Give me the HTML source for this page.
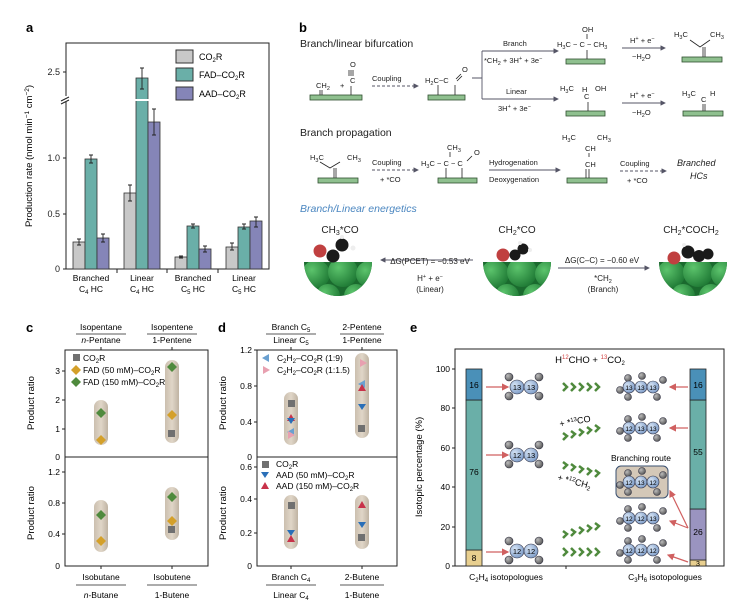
<!DOCTYPE html>
<html><head><meta charset="utf-8"><style>
html,body{margin:0;padding:0;background:#fff}
svg{display:block;font-family:"Liberation Sans",Arial,sans-serif}
</style></head><body>
<svg width="737" height="609" viewBox="0 0 737 609" xmlns="http://www.w3.org/2000/svg">
<defs>
<radialGradient id="cg" cx="0.35" cy="0.35" r="0.7"><stop offset="0" stop-color="#d6e4f5"/><stop offset="1" stop-color="#7d9cc8"/></radialGradient>
<radialGradient id="hg" cx="0.35" cy="0.35" r="0.7"><stop offset="0" stop-color="#bbb"/><stop offset="1" stop-color="#555"/></radialGradient>
<radialGradient id="gg" cx="0.35" cy="0.35" r="0.7"><stop offset="0" stop-color="#5cc46c"/><stop offset="1" stop-color="#1f7a35"/></radialGradient>
<linearGradient id="pill" x1="0" x2="1"><stop offset="0" stop-color="#cbbfae"/><stop offset="0.5" stop-color="#e0d6c8"/><stop offset="1" stop-color="#bfb3a2"/></linearGradient>
<marker id="ah" markerWidth="6" markerHeight="6" refX="5" refY="3" orient="auto"><path d="M0,0 L6,3 L0,6z" fill="#556"/></marker>
<marker id="ar" markerWidth="6" markerHeight="6" refX="5" refY="3" orient="auto"><path d="M0,0 L6,3 L0,6z" fill="#d06060"/></marker>
<clipPath id="c1"><path d="M304,262 a34,34 0 0 0 68,0z"/></clipPath>
<clipPath id="c2"><path d="M483,262 a34,34 0 0 0 68,0z"/></clipPath>
<clipPath id="c3"><path d="M659,262 a34,34 0 0 0 68,0z"/></clipPath>
</defs>

<!-- ===== Panel a ===== -->
<text x="26" y="32" font-size="13" font-weight="bold">a</text>
<rect x="66" y="43" width="203" height="226" fill="none" stroke="#222" stroke-width="1"/>
<g font-size="9" text-anchor="end" fill="#222">
<text x="60" y="272">0</text><text x="60" y="217">0.5</text><text x="60" y="161">1.0</text><text x="60" y="75">2.5</text>
</g>
<g stroke="#222"><line x1="63" y1="269" x2="66" y2="269"/><line x1="63" y1="214" x2="66" y2="214"/><line x1="63" y1="158" x2="66" y2="158"/><line x1="63" y1="72" x2="66" y2="72"/>
<line x1="117" y1="269" x2="117" y2="273"/><line x1="167" y1="269" x2="167" y2="273"/><line x1="218" y1="269" x2="218" y2="273"/></g>
<rect x="60" y="96" width="10" height="6" fill="#fff"/>
<g stroke="#222"><line x1="61" y1="101" x2="69" y2="97"/><line x1="61" y1="104" x2="69" y2="100"/></g>
<text transform="translate(32,156) rotate(-90)" font-size="9.5" text-anchor="middle">Production rate (nmol min<tspan dy="-3" font-size="6.5">−1</tspan><tspan dy="3"> cm</tspan><tspan dy="-3" font-size="6.5">−2</tspan><tspan dy="3">)</tspan></text>
<g stroke="#333" stroke-width="0.8">
<rect x="73" y="242" width="12" height="27" fill="#c8c8c8"/><rect x="85" y="159" width="12" height="110" fill="#6aafa8"/><rect x="97" y="238" width="12" height="31" fill="#8585b8"/>
<rect x="124" y="193" width="12" height="76" fill="#c8c8c8"/><rect x="136" y="78" width="12" height="191" fill="#6aafa8"/><rect x="148" y="122" width="12" height="147" fill="#8585b8"/>
<rect x="175" y="257" width="12" height="12" fill="#c8c8c8"/><rect x="187" y="226" width="12" height="43" fill="#6aafa8"/><rect x="199" y="249" width="12" height="20" fill="#8585b8"/>
<rect x="226" y="247" width="12" height="22" fill="#c8c8c8"/><rect x="238" y="227" width="12" height="42" fill="#6aafa8"/><rect x="250" y="221" width="12" height="48" fill="#8585b8"/>
</g>
<rect x="135" y="99" width="14" height="2" fill="#fff"/>
<g stroke="#222" stroke-width="0.9" fill="none">
<path d="M79,239v6M77,239h4M77,245h4"/><path d="M91,155v8M89,155h4M89,163h4"/><path d="M103,234v8M101,234h4M101,242h4"/>
<path d="M130,185v16M128,185h4M128,201h4"/><path d="M142,68v21M140,68h4M140,89h4"/><path d="M154,109v26M152,109h4M152,135h4"/>
<path d="M181,256v2M179,256h4M179,258h4"/><path d="M193,224v4M191,224h4M191,228h4"/><path d="M205,246v6M203,246h4M203,252h4"/>
<path d="M232,243v7M230,243h4M230,250h4"/><path d="M244,224v5M242,224h4M242,229h4"/><path d="M256,217v10M254,217h4M254,227h4"/>
</g>
<g font-size="9"><rect x="176" y="50" width="17" height="13" fill="#c8c8c8" stroke="#333"/><text x="199" y="60">CO<tspan font-size="6" dy="2">2</tspan><tspan dy="-2">R</tspan></text>
<rect x="176" y="68" width="17" height="13" fill="#6aafa8" stroke="#333"/><text x="199" y="78">FAD–CO<tspan font-size="6" dy="2">2</tspan><tspan dy="-2">R</tspan></text>
<rect x="176" y="87" width="17" height="13" fill="#8585b8" stroke="#333"/><text x="199" y="97">AAD–CO<tspan font-size="6" dy="2">2</tspan><tspan dy="-2">R</tspan></text></g>
<g font-size="8.5" text-anchor="middle">
<text x="91" y="281">Branched</text><text x="91" y="292">C<tspan font-size="6" dy="2">4</tspan><tspan dy="-2"> HC</tspan></text>
<text x="142" y="281">Linear</text><text x="142" y="292">C<tspan font-size="6" dy="2">4</tspan><tspan dy="-2"> HC</tspan></text>
<text x="193" y="281">Branched</text><text x="193" y="292">C<tspan font-size="6" dy="2">5</tspan><tspan dy="-2"> HC</tspan></text>
<text x="244" y="281">Linear</text><text x="244" y="292">C<tspan font-size="6" dy="2">5</tspan><tspan dy="-2"> HC</tspan></text>
</g>

<!-- ===== Panel b ===== -->
<text x="299" y="32" font-size="13" font-weight="bold">b</text>
<g font-size="10.5" fill="#222"><text x="300" y="47">Branch/linear bifurcation</text><text x="300" y="136">Branch propagation</text>
<text x="300" y="212" fill="#4a86c0" font-style="italic">Branch/Linear energetics</text></g>
<g fill="#8fc08f" stroke="#2f4f2f" stroke-width="0.8">
<rect x="310" y="95" width="52" height="5"/><rect x="428" y="95" width="37" height="5"/><rect x="566" y="59" width="39" height="5"/><rect x="682" y="57" width="40" height="5"/>
<rect x="566" y="111" width="39" height="5"/><rect x="683" y="111" width="40" height="5"/><rect x="318" y="178" width="40" height="5"/><rect x="438" y="178" width="39" height="5"/><rect x="567" y="178" width="40" height="5"/>
</g>
<g font-size="7.5" fill="#222">
<text x="316" y="88">CH<tspan font-size="5.5" dy="2">2</tspan></text><text x="340" y="88">+</text><text x="350" y="67">O</text><text x="350" y="83">C</text>
<text x="372" y="81">Coupling</text>
<text x="425" y="83">H<tspan font-size="5.5" dy="2">2</tspan><tspan dy="-2">C−C</tspan></text><text x="462" y="72">O</text>
<text x="503" y="46">Branch</text><text x="484" y="63">*CH<tspan font-size="5.5" dy="2">2</tspan><tspan dy="-2"> + 3H</tspan><tspan font-size="5.5" dy="-3">+</tspan><tspan dy="3"> + 3e</tspan><tspan font-size="5.5" dy="-3">−</tspan></text>
<text x="506" y="94">Linear</text><text x="498" y="111">3H<tspan font-size="5.5" dy="-3">+</tspan><tspan dy="3"> + 3e</tspan><tspan font-size="5.5" dy="-3">−</tspan></text>
<text x="582" y="32">OH</text><text x="557" y="47">H<tspan font-size="5.5" dy="2">3</tspan><tspan dy="-2">C − C − CH</tspan><tspan font-size="5.5" dy="2">3</tspan></text>
<text x="560" y="91">H<tspan font-size="5.5" dy="2">3</tspan><tspan dy="-2">C</tspan></text><text x="582" y="92">H</text><text x="595" y="91">OH</text><text x="584" y="99">C</text>
<text x="630" y="43">H<tspan font-size="5.5" dy="-3">+</tspan><tspan dy="3"> + e</tspan><tspan font-size="5.5" dy="-3">−</tspan></text><text x="632" y="59">−H<tspan font-size="5.5" dy="2">2</tspan><tspan dy="-2">O</tspan></text>
<text x="630" y="98">H<tspan font-size="5.5" dy="-3">+</tspan><tspan dy="3"> + e</tspan><tspan font-size="5.5" dy="-3">−</tspan></text><text x="632" y="115">−H<tspan font-size="5.5" dy="2">2</tspan><tspan dy="-2">O</tspan></text>
<text x="674" y="37">H<tspan font-size="5.5" dy="2">3</tspan><tspan dy="-2">C</tspan></text><text x="710" y="37">CH<tspan font-size="5.5" dy="2">3</tspan></text>
<text x="682" y="96">H<tspan font-size="5.5" dy="2">3</tspan><tspan dy="-2">C</tspan></text><text x="710" y="96">H</text><text x="701" y="102">C</text>
<text x="310" y="160">H<tspan font-size="5.5" dy="2">3</tspan><tspan dy="-2">C</tspan></text><text x="347" y="160">CH<tspan font-size="5.5" dy="2">3</tspan></text>
<text x="372" y="165">Coupling</text><text x="380" y="182">+ *CO</text>
<text x="447" y="150">CH<tspan font-size="5.5" dy="2">3</tspan></text><text x="421" y="166">H<tspan font-size="5.5" dy="2">3</tspan><tspan dy="-2">C − C − C</tspan></text><text x="474" y="155">O</text>
<text x="489" y="165">Hydrogenation</text><text x="489" y="182">Deoxygenation</text>
<text x="562" y="140">H<tspan font-size="5.5" dy="2">3</tspan><tspan dy="-2">C</tspan></text><text x="597" y="140">CH<tspan font-size="5.5" dy="2">3</tspan></text><text x="585" y="151">CH</text><text x="585" y="167">CH</text>
<text x="620" y="166">Coupling</text><text x="627" y="183">+ *CO</text>
<text x="677" y="166" font-size="9" font-style="italic">Branched</text><text x="690" y="179" font-size="9" font-style="italic">HCs</text>
</g>
<g stroke="#222" stroke-width="0.8" fill="none">
<path d="M353,70v6M351,70v6M349,70v6"/><path d="M320,90v5M322,90v5"/><path d="M351,86v9"/>
<path d="M438,85v10M455,85v10M456,79l5,-5M457,81l5,-5"/>
<path d="M587,34v5M587,50v9"/><path d="M588,102v9"/><path d="M703,104v7M705,104v7"/><path d="M690,40l10,7l10,-7M703,47v10M705,47v10"/>
<path d="M320,162l10,6l10,-6M334,168v10M336,168v10"/><path d="M450,152v5M446,168v10M462,168v10M467,161l5,-5"/><path d="M589,153v4M586,169v9M589,169v9"/>
</g>
<g stroke="#556" stroke-width="0.9" fill="none">
<line x1="372" y1="86" x2="418" y2="86" stroke-dasharray="3,2" marker-end="url(#ah)"/>
<path d="M472,78h10M482,51v48M482,51h76M482,99h76" /><path d="M555,51l3,0" marker-end="url(#ah)"/><path d="M555,99l3,0" marker-end="url(#ah)"/>
<line x1="622" y1="48" x2="665" y2="48" marker-end="url(#ah)"/><line x1="622" y1="103" x2="665" y2="103" marker-end="url(#ah)"/>
<line x1="372" y1="170" x2="418" y2="170" stroke-dasharray="3,2" marker-end="url(#ah)"/>
<line x1="489" y1="170" x2="560" y2="170" marker-end="url(#ah)"/>
<line x1="620" y1="171" x2="666" y2="171" stroke-dasharray="3,2" marker-end="url(#ah)"/>
<line x1="473" y1="260" x2="381" y2="260" marker-end="url(#ah)"/><line x1="558" y1="268" x2="649" y2="268" marker-end="url(#ah)"/>
</g>
<g font-size="8" fill="#222" text-anchor="middle">
<text x="430" y="264">ΔG(PCET) = −0.53 eV</text><text x="430" y="281">H<tspan font-size="5.5" dy="-3">+</tspan><tspan dy="3"> + e</tspan><tspan font-size="5.5" dy="-3">−</tspan></text><text x="430" y="292">(Linear)</text>
<text x="602" y="263">ΔG(C–C) = −0.60 eV</text><text x="603" y="281">*CH<tspan font-size="5.5" dy="2">2</tspan></text><text x="603" y="292">(Branch)</text>
<g font-size="10"><text x="340" y="233">CH<tspan font-size="7" dy="2">3</tspan><tspan dy="-2">*CO</tspan></text><text x="517" y="233">CH<tspan font-size="7" dy="2">2</tspan><tspan dy="-2">*CO</tspan></text><text x="691" y="233">CH<tspan font-size="7" dy="2">2</tspan><tspan dy="-2">*COCH</tspan><tspan font-size="7" dy="2">2</tspan></text></g>
</g>
<g>
<g clip-path="url(#c1)"><rect x="300" y="260" width="80" height="40" fill="#1a6a2e"/>
<circle cx="316" cy="274" r="14" fill="url(#gg)"/><circle cx="343" cy="272" r="15" fill="url(#gg)"/><circle cx="369" cy="274" r="13" fill="url(#gg)"/><circle cx="328" cy="296" r="12" fill="url(#gg)"/><circle cx="356" cy="296" r="12" fill="url(#gg)"/></g>
<circle cx="320" cy="251" r="6.5" fill="#c04040"/><circle cx="333" cy="256" r="6.5" fill="#1a1a1a"/><circle cx="342" cy="245" r="6.5" fill="#1a1a1a"/><circle cx="353" cy="248" r="2.5" fill="#eee"/><circle cx="342" cy="237" r="2" fill="#eee"/>
<g clip-path="url(#c2)"><rect x="480" y="260" width="80" height="40" fill="#1a6a2e"/>
<circle cx="495" cy="274" r="14" fill="url(#gg)"/><circle cx="522" cy="272" r="15" fill="url(#gg)"/><circle cx="548" cy="274" r="13" fill="url(#gg)"/><circle cx="507" cy="296" r="12" fill="url(#gg)"/><circle cx="535" cy="296" r="12" fill="url(#gg)"/></g>
<circle cx="503" cy="255" r="6.5" fill="#c04040"/><circle cx="515" cy="255" r="5.5" fill="#1a1a1a"/><circle cx="523" cy="249" r="5.5" fill="#1a1a1a"/><circle cx="520" cy="243" r="2" fill="#eee"/><circle cx="530" cy="250" r="2" fill="#eee"/>
<g clip-path="url(#c3)"><rect x="655" y="260" width="80" height="40" fill="#1a6a2e"/>
<circle cx="671" cy="274" r="14" fill="url(#gg)"/><circle cx="698" cy="272" r="15" fill="url(#gg)"/><circle cx="724" cy="274" r="13" fill="url(#gg)"/><circle cx="683" cy="296" r="12" fill="url(#gg)"/><circle cx="711" cy="296" r="12" fill="url(#gg)"/></g>
<circle cx="674" cy="258" r="6.5" fill="#c04040"/><circle cx="688" cy="252" r="6.5" fill="#1a1a1a"/><circle cx="699" cy="256" r="6" fill="#1a1a1a"/><circle cx="708" cy="254" r="5.5" fill="#1a1a1a"/><circle cx="684" cy="245" r="2" fill="#eee"/>
</g>

<!-- ===== Panel c ===== -->
<text x="26" y="332" font-size="13" font-weight="bold">c</text>
<rect x="65" y="350" width="143" height="216" fill="none" stroke="#222"/><line x1="65" y1="457" x2="208" y2="457" stroke="#222"/>
<g font-size="8.5" text-anchor="end"><text x="60" y="460">0</text><text x="60" y="432">1</text><text x="60" y="403">2</text><text x="60" y="374">3</text>
<text x="60" y="569">0</text><text x="60" y="537">0.4</text><text x="60" y="506">0.8</text><text x="60" y="475">1.2</text></g>
<g stroke="#222"><path d="M62,429h3M62,400h3M62,371h3M62,534h3M62,503h3M62,472h3M101,566v3M172,566v3M101,350v-3M172,350v-3"/></g>
<text transform="translate(34,403) rotate(-90)" font-size="9.5" text-anchor="middle">Product ratio</text>
<text transform="translate(34,513) rotate(-90)" font-size="9.5" text-anchor="middle">Product ratio</text>
<g fill="url(#pill)"><rect x="94" y="400" width="14" height="45" rx="7"/><rect x="165" y="360" width="14" height="83" rx="7"/><rect x="94" y="500" width="14" height="52" rx="7"/><rect x="165" y="487" width="14" height="53" rx="7"/></g>
<g stroke="none">
<path d="M101,408l5,5l-5,5l-5,-5z" fill="#4f8a3d"/><path d="M101,435l5,5l-5,5l-5,-5z" fill="#d4a02a"/>
<path d="M172,362l5,5l-5,5l-5,-5z" fill="#4f8a3d"/><path d="M172,410l5,5l-5,5l-5,-5z" fill="#d4a02a"/><rect x="168" y="430" width="7" height="7" fill="#707070"/>
<path d="M101,510l5,5l-5,5l-5,-5z" fill="#4f8a3d"/><path d="M101,536l5,5l-5,5l-5,-5z" fill="#d4a02a"/>
<path d="M172,492l5,5l-5,5l-5,-5z" fill="#4f8a3d"/><rect x="168" y="526" width="7" height="7" fill="#707070"/><path d="M172,516l5,5l-5,5l-5,-5z" fill="#d4a02a"/>
<rect x="73" y="354" width="7" height="7" fill="#707070"/><path d="M76,365l5,5l-5,5l-5,-5z" fill="#d4a02a"/><path d="M76,377l5,5l-5,5l-5,-5z" fill="#4f8a3d"/>
</g>
<g font-size="8.5"><text x="83" y="361">CO<tspan font-size="6" dy="2">2</tspan><tspan dy="-2">R</tspan></text><text x="83" y="373">FAD (50 mM)–CO<tspan font-size="6" dy="2">2</tspan><tspan dy="-2">R</tspan></text><text x="83" y="385">FAD (150 mM)–CO<tspan font-size="6" dy="2">2</tspan><tspan dy="-2">R</tspan></text></g>
<g font-size="8.5" text-anchor="middle">
<text x="101" y="330">Isopentane</text><text x="101" y="343"><tspan font-style="italic">n</tspan>-Pentane</text><text x="172" y="330">Isopentene</text><text x="172" y="343">1-Pentene</text>
<text x="101" y="580">Isobutane</text><text x="101" y="598"><tspan font-style="italic">n</tspan>-Butane</text><text x="172" y="580">Isobutene</text><text x="172" y="598">1-Butene</text>
</g>
<g stroke="#222" stroke-width="0.8"><path d="M76,334h50M147,334h50M76,585h50M147,585h50"/></g>

<!-- ===== Panel d ===== -->
<text x="218" y="332" font-size="13" font-weight="bold">d</text>
<rect x="257" y="350" width="140" height="216" fill="none" stroke="#222"/><line x1="257" y1="457" x2="397" y2="457" stroke="#222"/>
<g font-size="8.5" text-anchor="end"><text x="252" y="460">0</text><text x="252" y="425">0.4</text><text x="252" y="389">0.8</text><text x="252" y="353">1.2</text>
<text x="252" y="569">0</text><text x="252" y="536">0.2</text><text x="252" y="502">0.4</text><text x="252" y="470">0.6</text></g>
<g stroke="#222"><path d="M254,422h3M254,386h3M254,350h3M254,533h3M254,499h3M254,467h3M291,566v3M362,566v3M291,350v-3M362,350v-3"/></g>
<text transform="translate(226,403) rotate(-90)" font-size="9.5" text-anchor="middle">Product ratio</text>
<text transform="translate(226,513) rotate(-90)" font-size="9.5" text-anchor="middle">Product ratio</text>
<g fill="url(#pill)"><rect x="284" y="392" width="14" height="53" rx="7"/><rect x="355" y="353" width="14" height="85" rx="7"/><rect x="284" y="495" width="14" height="54" rx="7"/><rect x="355" y="495" width="14" height="54" rx="7"/></g>
<g>
<rect x="288" y="400" width="7" height="7" fill="#707070"/><path d="M291,414l4,7h-8z" fill="#c8324a"/><path d="M287,418h8l-4,6z" fill="#2a6fb8"/><path d="M287,432l7,-4v8z" fill="#6aa0d0"/><path d="M295,435l-7,-4v8z" fill="#e8a0b0"/>
<path d="M367,363l-7,-4v8z" fill="#e8a0b0"/><path d="M358,384l7,-4v8z" fill="#6aa0d0"/><path d="M362,384l4,7h-8z" fill="#c8324a"/><path d="M358,404h8l-4,6z" fill="#2a6fb8"/><rect x="358" y="425" width="7" height="7" fill="#707070"/>
<rect x="288" y="502" width="7" height="7" fill="#707070"/><path d="M287,530h8l-4,6z" fill="#2a6fb8"/><path d="M291,535l4,7h-8z" fill="#c8324a"/>
<path d="M362,501l4,7h-8z" fill="#c8324a"/><path d="M358,522h8l-4,6z" fill="#2a6fb8"/><rect x="358" y="534" width="7" height="7" fill="#707070"/>
<path d="M262,358l7,-4v8z" fill="#6aa0d0"/><path d="M270,370l-7,-4v8z" fill="#e8a0b0"/>
<rect x="262" y="461" width="7" height="7" fill="#707070"/><path d="M261,472h8l-4,6z" fill="#2a6fb8"/><path d="M265,482l4,7h-8z" fill="#c8324a"/>
</g>
<g font-size="8.5"><text x="277" y="361">C<tspan font-size="6" dy="2">2</tspan><tspan dy="-2">H</tspan><tspan font-size="6" dy="2">2</tspan><tspan dy="-2">–CO</tspan><tspan font-size="6" dy="2">2</tspan><tspan dy="-2">R (1:9)</tspan></text>
<text x="277" y="373">C<tspan font-size="6" dy="2">2</tspan><tspan dy="-2">H</tspan><tspan font-size="6" dy="2">2</tspan><tspan dy="-2">–CO</tspan><tspan font-size="6" dy="2">2</tspan><tspan dy="-2">R (1:1.5)</tspan></text>
<text x="276" y="467">CO<tspan font-size="6" dy="2">2</tspan><tspan dy="-2">R</tspan></text><text x="276" y="478">AAD (50 mM)–CO<tspan font-size="6" dy="2">2</tspan><tspan dy="-2">R</tspan></text><text x="276" y="489">AAD (150 mM)–CO<tspan font-size="6" dy="2">2</tspan><tspan dy="-2">R</tspan></text></g>
<g font-size="8.5" text-anchor="middle">
<text x="291" y="330">Branch C<tspan font-size="6" dy="2">5</tspan></text><text x="291" y="343">Linear C<tspan font-size="6" dy="2">5</tspan></text><text x="362" y="330">2-Pentene</text><text x="362" y="343">1-Pentene</text>
<text x="291" y="580">Branch C<tspan font-size="6" dy="2">4</tspan></text><text x="291" y="598">Linear C<tspan font-size="6" dy="2">4</tspan></text><text x="362" y="580">2-Butene</text><text x="362" y="598">1-Butene</text>
</g>
<g stroke="#222" stroke-width="0.8"><path d="M266,334h50M340,334h44M266,585h50M340,585h44"/></g>

<!-- ===== Panel e ===== -->
<text x="410" y="332" font-size="13" font-weight="bold">e</text>
<rect x="455" y="349" width="269" height="217" fill="none" stroke="#222"/>
<g font-size="8.5" text-anchor="end"><text x="450" y="569">0</text><text x="450" y="530">20</text><text x="450" y="490">40</text><text x="450" y="451">60</text><text x="450" y="411">80</text><text x="450" y="372">100</text></g>
<g stroke="#222"><path d="M452,566h3M452,527h3M452,487h3M452,448h3M452,408h3M452,369h3M566,566v3"/></g>
<text transform="translate(422,467) rotate(-90)" font-size="9.5" text-anchor="middle">Isotopic percentage (%)</text>
<text x="590" y="363" font-size="9.5" text-anchor="middle">H<tspan font-size="6" dy="-4" fill="#d04040">12</tspan><tspan dy="4">CHO + </tspan><tspan font-size="6" dy="-4" fill="#d04040">13</tspan><tspan dy="4">CO</tspan><tspan font-size="6" dy="2">2</tspan></text>
<g stroke="#222" stroke-width="0.8">
<rect x="466" y="550" width="16" height="16" fill="#e8cf8f"/><rect x="466" y="400" width="16" height="150" fill="#6aafa8"/><rect x="466" y="369" width="16" height="31" fill="#4a90b8"/>
<rect x="690" y="560" width="16" height="6" fill="#e8cf8f"/><rect x="690" y="509" width="16" height="51" fill="#9a94c0"/><rect x="690" y="400" width="16" height="109" fill="#6aafa8"/><rect x="690" y="369" width="16" height="31" fill="#4a90b8"/>
</g>
<g font-size="8.5" text-anchor="middle"><text x="474" y="388">16</text><text x="474" y="475">76</text><text x="474" y="561">8</text><text x="698" y="388">16</text><text x="698" y="455">55</text><text x="698" y="535">26</text><text x="698" y="566" font-size="7">3</text></g>
<g stroke="#d06060" stroke-width="1.2" fill="none">
<line x1="486" y1="387" x2="508" y2="387" marker-end="url(#ar)"/><line x1="486" y1="455" x2="508" y2="455" marker-end="url(#ar)"/><line x1="486" y1="552" x2="508" y2="552" marker-end="url(#ar)"/>
<line x1="688" y1="387" x2="670" y2="387" marker-end="url(#ar)"/><line x1="688" y1="428" x2="670" y2="428" marker-end="url(#ar)"/>
<line x1="688" y1="528" x2="670" y2="491" marker-end="url(#ar)"/><line x1="688" y1="528" x2="670" y2="521" marker-end="url(#ar)"/><line x1="688" y1="562" x2="668" y2="555" marker-end="url(#ar)"/>
</g>
<g stroke="#4f8a3d" stroke-width="2.5" fill="none">
<path d="M563,383l4,4l-4,4M571,383l4,4l-4,4M579,383l4,4l-4,4M587,383l4,4l-4,4M595,383l4,4l-4,4"/>
<path d="M563,433l4,3l-4,4M571,431l4,3l-4,4M579,429l4,3l-4,4M587,427l4,3l-4,4M595,425l4,3l-4,4"/>
<path d="M563,462l4,3l-4,4M571,464l4,3l-4,4M579,466l4,3l-4,4M587,468l4,3l-4,4M595,470l4,3l-4,4"/>
<path d="M563,531l4,3l-4,4M571,529l4,3l-4,4M579,527l4,3l-4,4M587,525l4,3l-4,4M595,523l4,3l-4,4"/>
<path d="M563,548l4,4l-4,4M571,548l4,4l-4,4M579,548l4,4l-4,4M587,548l4,4l-4,4M595,548l4,4l-4,4"/>
</g>
<text x="560" y="427" font-size="9" transform="rotate(-10 560 427)">+ *<tspan font-size="6" dy="-3">13</tspan><tspan dy="3">CO</tspan></text>
<text x="557" y="480" font-size="9" transform="rotate(15 557 480)">+ *<tspan font-size="6" dy="-3">12</tspan><tspan dy="3">CH</tspan><tspan font-size="6" dy="2">2</tspan></text>
<text x="641" y="461" font-size="8.5" text-anchor="middle">Branching route</text>
<rect x="616" y="466" width="52" height="32" rx="5" fill="#d4c8b8" stroke="#3a5070"/>
<g stroke="#334" stroke-width="0.6">
<g fill="url(#hg)"><circle cx="509" cy="377" r="4"/><circle cx="509" cy="396" r="4"/><circle cx="539" cy="377" r="4"/><circle cx="539" cy="396" r="4"/>
<circle cx="509" cy="445" r="4"/><circle cx="509" cy="464" r="4"/><circle cx="539" cy="445" r="4"/><circle cx="539" cy="464" r="4"/>
<circle cx="509" cy="541" r="4"/><circle cx="509" cy="560" r="4"/><circle cx="539" cy="541" r="4"/><circle cx="539" cy="560" r="4"/></g>
<g fill="url(#cg)"><circle cx="517" cy="387" r="7"/><circle cx="531" cy="387" r="7"/><circle cx="517" cy="455" r="7"/><circle cx="531" cy="455" r="7"/><circle cx="517" cy="551" r="7"/><circle cx="531" cy="551" r="7"/></g>
</g>
<g font-size="7.5" text-anchor="middle"><text x="517" y="390">13</text><text x="531" y="390">13</text><text x="517" y="458">12</text><text x="531" y="458">13</text><text x="517" y="554">12</text><text x="531" y="554">12</text></g>
<g stroke="#334" stroke-width="0.6">
<g fill="url(#hg)">
<circle cx="620" cy="390" r="3.5"/><circle cx="628" cy="378" r="3.5"/><circle cx="642" cy="376" r="3.5"/><circle cx="663" cy="380" r="3.5"/><circle cx="657" cy="397" r="3.5"/><circle cx="628" cy="397" r="3.5"/>
<circle cx="620" cy="431" r="3.5"/><circle cx="628" cy="419" r="3.5"/><circle cx="642" cy="417" r="3.5"/><circle cx="663" cy="421" r="3.5"/><circle cx="657" cy="438" r="3.5"/><circle cx="628" cy="438" r="3.5"/>
<circle cx="620" cy="485" r="3.5"/><circle cx="628" cy="473" r="3.5"/><circle cx="642" cy="471" r="3.5"/><circle cx="663" cy="475" r="3.5"/><circle cx="657" cy="492" r="3.5"/><circle cx="628" cy="492" r="3.5"/>
<circle cx="620" cy="521" r="3.5"/><circle cx="628" cy="509" r="3.5"/><circle cx="642" cy="507" r="3.5"/><circle cx="663" cy="511" r="3.5"/><circle cx="657" cy="528" r="3.5"/><circle cx="628" cy="528" r="3.5"/>
<circle cx="620" cy="553" r="3.5"/><circle cx="628" cy="541" r="3.5"/><circle cx="642" cy="539" r="3.5"/><circle cx="663" cy="543" r="3.5"/><circle cx="657" cy="560" r="3.5"/><circle cx="628" cy="560" r="3.5"/>
</g>
<g fill="url(#cg)">
<circle cx="629" cy="387" r="6"/><circle cx="641" cy="387" r="6"/><circle cx="653" cy="387" r="6"/>
<circle cx="629" cy="428" r="6"/><circle cx="641" cy="428" r="6"/><circle cx="653" cy="428" r="6"/>
<circle cx="629" cy="482" r="6"/><circle cx="641" cy="482" r="6"/><circle cx="653" cy="482" r="6"/>
<circle cx="629" cy="518" r="6"/><circle cx="641" cy="518" r="6"/><circle cx="653" cy="518" r="6"/>
<circle cx="629" cy="550" r="6"/><circle cx="641" cy="550" r="6"/><circle cx="653" cy="550" r="6"/>
</g></g>
<g font-size="6.5" text-anchor="middle">
<text x="629" y="390">13</text><text x="641" y="390">13</text><text x="653" y="390">13</text>
<text x="629" y="431">12</text><text x="641" y="431">13</text><text x="653" y="431">13</text>
<text x="629" y="485">12</text><text x="641" y="485">13</text><text x="653" y="485">12</text>
<text x="629" y="521">12</text><text x="641" y="521">12</text><text x="653" y="521">13</text>
<text x="629" y="553">12</text><text x="641" y="553">12</text><text x="653" y="553">12</text>
</g>
<g font-size="8.5" text-anchor="middle"><text x="506" y="580">C<tspan font-size="6" dy="2">2</tspan><tspan dy="-2">H</tspan><tspan font-size="6" dy="2">4</tspan><tspan dy="-2"> isotopologues</tspan></text>
<text x="665" y="580">C<tspan font-size="6" dy="2">3</tspan><tspan dy="-2">H</tspan><tspan font-size="6" dy="2">6</tspan><tspan dy="-2"> isotopologues</tspan></text></g>
</svg>
</body></html>
